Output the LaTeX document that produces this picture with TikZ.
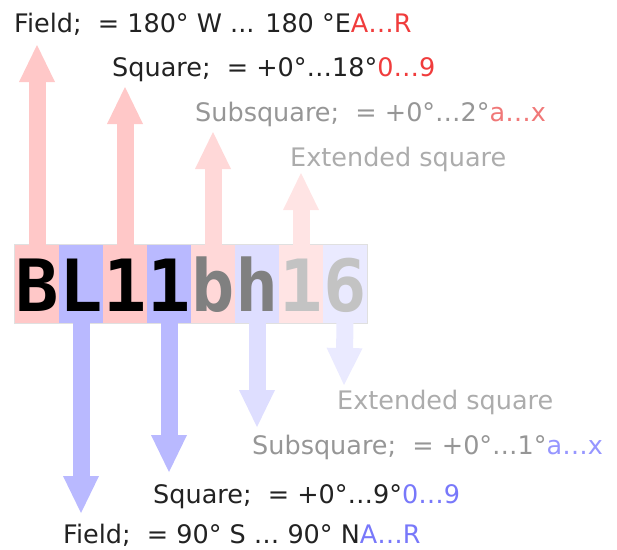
\documentclass[tikz,border=0pt]{standalone}
\usepackage{fontspec}
\setmainfont{DejaVu Sans}
\newfontfamily\bigmono{DejaVu Sans Mono}
\usetikzlibrary{arrows.meta}
\definecolor{cellR}{RGB}{255,200,200}
\definecolor{cellB}{RGB}{185,185,255}
\definecolor{cellRb}{RGB}{255,216,216}
\definecolor{cellBb}{RGB}{222,222,255}
\definecolor{cellRc}{RGB}{255,228,228}
\definecolor{cellBc}{RGB}{234,234,255}
\definecolor{txtA}{RGB}{34,34,34}
\definecolor{txtB}{RGB}{150,150,150}
\definecolor{txtC}{RGB}{172,172,172}
\definecolor{hiR}{RGB}{240,60,60}
\definecolor{hiRb}{RGB}{240,120,120}
\definecolor{hiB}{RGB}{120,120,250}
\definecolor{hiBb}{RGB}{150,150,255}
\definecolor{letB}{RGB}{128,128,128}
\definecolor{letC}{RGB}{195,195,195}
\tikzset{
  cell/.style={minimum width=44pt, minimum height=78pt, inner sep=0pt,
    text height=54pt, text depth=0pt, anchor=center,
    font={\bigmono\bfseries\fontsize{72pt}{72pt}\selectfont}},
  arr/.style={line width=17pt, -{Triangle[width=36pt,length=37pt,line width=0pt]}},
  lbl/.style={anchor=base west, inner sep=0pt, font={\fontsize{25.5pt}{30pt}\selectfont}},
  rim/.style={draw=black!12, line width=0.7pt}
}
\begin{document}
\begin{tikzpicture}[x=1pt,y=-1pt]
\useasboundingbox (0,0) rectangle (617,549);
% code cells
\node[cell, fill=cellR, text=black] (c0) at (37,284) {B};
\node[cell, fill=cellB, text=black] (c1) at (81,284) {L};
\node[cell, fill=cellR, text=black] (c2) at (125,284) {1};
\node[cell, fill=cellB, text=black] (c3) at (169,284) {1};
\node[cell, fill=cellRb, text=letB] (c4) at (213,284) {b};
\node[cell, fill=cellBb, text=letB] (c5) at (257,284) {h};
\node[cell, fill=cellRc, text=letC] (c6) at (301,284) {1};
\node[cell, fill=cellBc, text=letC] (c7) at (345,284) {6};
\draw[rim] (c0.north west) rectangle (c7.south east);
% arrow tips
\coordinate (t0) at (37,45);
\coordinate (t2) at (125,87);
\coordinate (t4) at (213,132);
\coordinate (t6) at (301,173);
\coordinate (t1) at (81,513);
\coordinate (t3) at (169,472);
\coordinate (t5) at (257,427);
\coordinate (t7) at (344,385);
\draw[arr, draw=cellR, fill=cellR] ([yshift=-0.5pt]c0.north) -- (t0);
\draw[arr, draw=cellR, fill=cellR] ([yshift=-0.5pt]c2.north) -- (t2);
\draw[arr, draw=cellRb, fill=cellRb] ([yshift=-0.5pt]c4.north) -- (t4);
\draw[arr, draw=cellRc, fill=cellRc] ([yshift=-0.5pt]c6.north) -- (t6);
\draw[arr, draw=cellB, fill=cellB] ([yshift=0.5pt]c1.south) -- (t1);
\draw[arr, draw=cellB, fill=cellB] ([yshift=0.5pt]c3.south) -- (t3);
\draw[arr, draw=cellBb, fill=cellBb] ([yshift=0.5pt]c5.south) -- (t5);
\draw[arr, draw=cellBc, fill=cellBc] ([yshift=0.5pt]c7.south) -- (t7);
% labels top
\node[lbl, text=txtA] (lfN) at (14,32) {Field;\ \ = 180° W ... 180 °E\textcolor{hiR}{A…R}};
\node[lbl, text=txtA] (lsN) at (112,76.5) {Square;\ \ = +0°…18°\textcolor{hiR}{0…9}};
\node[lbl, text=txtB] (lssN) at (195,121) {Subsquare;\ \ = +0°…2°\textcolor{hiRb}{a…x}};
\node[lbl, text=txtC] (leN) at (290,166) {Extended square};
% labels bottom
\node[lbl, text=txtC] (leS) at (337,409) {Extended square};
\node[lbl, text=txtB] (lssS) at (252,454) {Subsquare;\ \ = +0°…1°\textcolor{hiBb}{a…x}};
\node[lbl, text=txtA] (lsS) at (153,503.5) {Square;\ \ = +0°…9°\textcolor{hiB}{0…9}};
\node[lbl, text=txtA] (lfS) at (63,543) {Field;\ \ = 90° S … 90° N\textcolor{hiB}{A…R}};
\end{tikzpicture}
\end{document}
